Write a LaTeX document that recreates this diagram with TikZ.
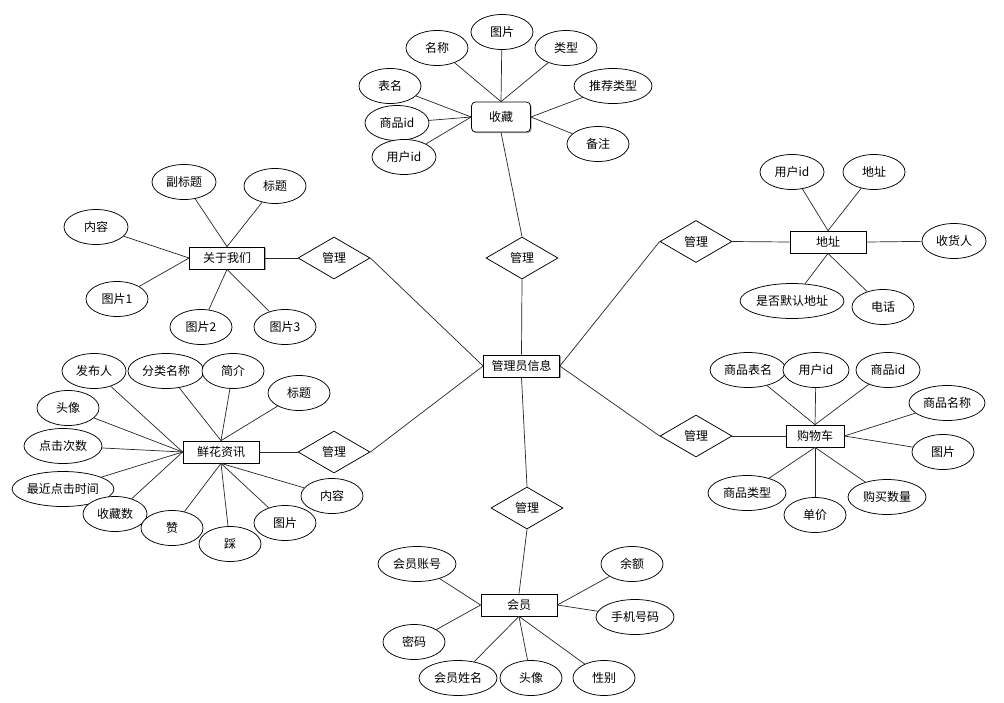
\documentclass[tikz,border=0pt]{standalone}
\usepackage{fontspec}
\setmainfont{Noto Sans CJK SC}
\usetikzlibrary{shapes.geometric,shadows}
\begin{document}
\begin{tikzpicture}[x=1pt,y=-1pt,
  every node/.style={font=\fontsize{12}{14}\selectfont},
  attr/.style={ellipse,draw,fill=white,line width=0.75pt,inner sep=0pt,minimum width=62,minimum height=35},
  ent/.style={rectangle,draw,fill=white,line width=0.75pt,inner sep=0pt,minimum width=76,minimum height=22,
    drop shadow={shadow xshift=1.2pt,shadow yshift=-1.2pt,fill=gray!70,opacity=1}},
  rel/.style={diamond,draw,fill=white,line width=0.75pt,inner sep=0pt,minimum width=72,minimum height=42},
  link/.style={line width=0.7pt,draw=black!85}]
\fill[white] (0,0) rectangle (1004,702);
\useasboundingbox (0,0) rectangle (1004,702);

% central entity
\node[ent] (gly) at (521.5,366) {管理员信息};

% ---------- 收藏 ----------
\node[ent,rounded corners=4pt,minimum width=59,minimum height=30] (sc) at (501,117) {收藏};
\node[attr] (sc1) at (502,32) {图片};
\node[attr] (sc2) at (437,48) {名称};
\node[attr] (sc3) at (566,48) {类型};
\node[attr] (sc4) at (390,86) {表名};
\node[attr,minimum width=64] (sc5) at (397,123) {商品id};
\node[attr,minimum width=64] (sc6) at (404,157) {用户id};
\node[attr,minimum width=78] (sc7) at (613,86) {推荐类型};
\node[attr] (sc8) at (598,144) {备注};
\node[rel] (d1) at (522,258) {管理};
\draw[link] (sc1) -- (sc.north);
\draw[link] (sc2) -- (sc.north);
\draw[link] (sc3) -- (sc.north);
\draw[link] (sc4) -- (sc.west);
\draw[link] (sc5) -- (sc.west);
\draw[link] (sc6) -- (sc.west);
\draw[link] (sc7) -- (sc.east);
\draw[link] (sc8) -- (sc.east);
\draw[link] (sc.south) -- (d1.north);
\draw[link] (d1.south) -- (gly.north);

% ---------- 关于我们 ----------
\node[ent,minimum width=75] (gy) at (227,258) {关于我们};
\node[attr,minimum width=64] (gy1) at (184,182) {副标题};
\node[attr] (gy2) at (275,186) {标题};
\node[attr,minimum width=64] (gy3) at (96,227) {内容};
\node[attr] (gy4) at (117,299) {图片1};
\node[attr] (gy5) at (201,327) {图片2};
\node[attr] (gy6) at (285,327) {图片3};
\node[rel] (d2) at (334,258) {管理};
\draw[link] (gy1) -- (gy.north);
\draw[link] (gy2) -- (gy.north);
\draw[link] (gy3) -- (gy.west);
\draw[link] (gy4) -- (gy.west);
\draw[link] (gy5) -- (gy.south);
\draw[link] (gy6) -- (gy.south);
\draw[link] (gy.east) -- (d2.west);
\draw[link] (d2.east) -- (gly.west);

% ---------- 鲜花资讯 ----------
\node[ent] (xh) at (221,452) {鲜花资讯};
\node[attr,minimum width=64] (xh1) at (94,371) {发布人};
\node[attr,minimum width=76] (xh2) at (166,371) {分类名称};
\node[attr] (xh3) at (233,371) {简介};
\node[attr] (xh4) at (299,393) {标题};
\node[attr] (xh5) at (68,408) {头像};
\node[attr,minimum width=78] (xh6) at (63,446) {点击次数};
\node[attr,minimum width=100] (xh7) at (63,489) {最近点击时间};
\node[attr,minimum width=64] (xh8) at (115,514) {收藏数};
\node[attr] (xh9) at (172,528) {赞};
\node[attr] (xh10) at (230,544) {踩};
\node[attr] (xh11) at (285,523) {图片};
\node[attr] (xh12) at (332,496) {内容};
\node[rel] (d3) at (334,452) {管理};
\draw[link] (xh1) -- (xh.west);
\draw[link] (xh2) -- (xh.north);
\draw[link] (xh3) -- (xh.north);
\draw[link] (xh4) -- (xh.north);
\draw[link] (xh5) -- (xh.west);
\draw[link] (xh6) -- (xh.west);
\draw[link] (xh7) -- (xh.west);
\draw[link] (xh8) -- (xh.west);
\draw[link] (xh9) -- (xh.south);
\draw[link] (xh10) -- (xh.south);
\draw[link] (xh11) -- (xh.south);
\draw[link] (xh12) -- (xh.south);
\draw[link] (xh.east) -- (d3.west);
\draw[link] (d3.east) -- (gly.west);

% ---------- 地址 ----------
\node[ent] (dz) at (828,242) {地址};
\node[attr,minimum width=64] (dz1) at (792,172) {用户id};
\node[attr] (dz2) at (874,172) {地址};
\node[attr,minimum width=64] (dz3) at (954,241) {收货人};
\node[attr,minimum width=104] (dz4) at (792,301) {是否默认地址};
\node[attr] (dz5) at (883,307) {电话};
\node[rel] (d4) at (696,241.5) {管理};
\draw[link] (dz1) -- (dz.north);
\draw[link] (dz2) -- (dz.north);
\draw[link] (dz3) -- (dz.east);
\draw[link] (dz4) -- (dz.south);
\draw[link] (dz5) -- (dz.south);
\draw[link] (d4.east) -- (dz.west);
\draw[link] (gly.east) -- (d4.west);

% ---------- 购物车 ----------
\node[ent,minimum width=58] (gwc) at (815,436) {购物车};
\node[attr,minimum width=76] (gw1) at (748,370) {商品表名};
\node[attr,minimum width=66] (gw2) at (816,370) {用户id};
\node[attr,minimum width=64] (gw3) at (888,370) {商品id};
\node[attr,minimum width=76] (gw4) at (947,403) {商品名称};
\node[attr] (gw5) at (943,452) {图片};
\node[attr,minimum width=78] (gw6) at (747,493) {商品类型};
\node[attr] (gw7) at (815,515) {单价};
\node[attr,minimum width=78] (gw8) at (887,497) {购买数量};
\node[rel] (d5) at (696,436) {管理};
\draw[link] (gw1) -- (gwc.north);
\draw[link] (gw2) -- (gwc.north);
\draw[link] (gw3) -- (gwc.north);
\draw[link] (gw4) -- (gwc.east);
\draw[link] (gw5) -- (gwc.east);
\draw[link] (gw6) -- (gwc.south);
\draw[link] (gw7) -- (gwc.south);
\draw[link] (gw8) -- (gwc.south);
\draw[link] (d5.east) -- (gwc.west);
\draw[link] (gly.east) -- (d5.west);

% ---------- 会员 ----------
\node[ent] (hy) at (519,605) {会员};
\node[attr,minimum width=78] (hy1) at (417,564) {会员账号};
\node[attr] (hy2) at (414,642) {密码};
\node[attr,minimum width=78] (hy3) at (458,678) {会员姓名};
\node[attr] (hy4) at (531,678) {头像};
\node[attr] (hy5) at (604,678) {性别};
\node[attr] (hy6) at (632,564) {余额};
\node[attr,minimum width=78] (hy7) at (635,617) {手机号码};
\node[rel] (d6) at (527,508) {管理};
\draw[link] (hy1) -- (hy.west);
\draw[link] (hy2) -- (hy.west);
\draw[link] (hy3) -- (hy.south);
\draw[link] (hy4) -- (hy.south);
\draw[link] (hy5) -- (hy.south);
\draw[link] (hy6) -- (hy.east);
\draw[link] (hy7) -- (hy.east);
\draw[link] (gly.south) -- (d6.north);
\draw[link] (d6.south) -- (hy.north);
\end{tikzpicture}
\end{document}
